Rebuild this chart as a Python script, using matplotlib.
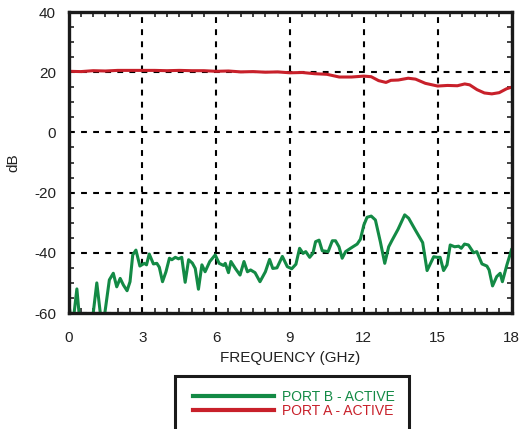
import matplotlib
matplotlib.use("Agg")
import matplotlib.pyplot as plt
from matplotlib.lines import Line2D
from matplotlib.patches import Rectangle
from matplotlib.ticker import MultipleLocator

plt.rcParams["font.family"] = ["Liberation Sans", "DejaVu Sans"]
plt.rcParams["axes.unicode_minus"] = False

# PORT B - ACTIVE (green)
green_f = [0.0, 0.1, 0.2, 0.34, 0.45, 0.6, 0.8, 0.99, 1.15, 1.32, 1.46, 1.66, 1.82, 1.96,
           2.1, 2.23, 2.38, 2.5, 2.61, 2.74, 2.9, 3.08, 3.17, 3.28, 3.45, 3.59, 3.69, 3.82,
           3.96, 4.1, 4.2, 4.34, 4.47, 4.6, 4.74, 4.88, 5.03, 5.15, 5.28, 5.42, 5.55, 5.74,
           5.96, 6.12, 6.3, 6.37, 6.5, 6.6, 6.78, 6.97, 7.13, 7.27, 7.4, 7.58, 7.78, 8.0,
           8.17, 8.3, 8.47, 8.69, 8.89, 9.07, 9.24, 9.39, 9.53, 9.64, 9.8, 9.93, 10.04,
           10.18, 10.31, 10.55, 10.72, 10.85, 10.99, 11.12, 11.26, 11.46, 11.73, 11.86,
           12.0, 12.13, 12.3, 12.47, 12.67, 12.85, 13.01, 13.15, 13.39, 13.66, 13.82,
           14.09, 14.39, 14.46, 14.57, 14.84, 14.98, 15.1, 15.24, 15.38, 15.51, 15.69,
           15.85, 15.96, 16.09, 16.25, 16.46, 16.59, 16.8, 17.0, 17.09, 17.23, 17.4,
           17.54, 17.63, 17.81, 18.0]
green_db = [-56, -62, -62, -52, -62, -63, -63, -61, -50, -62, -61, -49, -46.8, -51.3,
            -48.5, -50.7, -52.6, -49.6, -40.7, -39.1, -44.4, -43.5, -44, -40.4, -43.7, -43.5, -44.8, -49.6,
            -46.3, -41.8, -42.3, -41.5, -42, -41.5, -49.8, -42.3, -43.4, -45.2, -52.1, -44, -46.3, -42.9,
            -40.7, -43.5, -44.2, -43.5, -46.6, -42.9, -45.2, -47.4, -42.9, -46.3, -45.7, -46.6, -49.6, -46.3,
            -42.2, -45.2, -45, -41.2, -44.6, -45.3, -43.8, -38.5, -40.2, -39.6, -41.5, -40.2, -36.3,
            -35.8, -39.3, -39.6, -36, -36, -38, -41.8, -39.6, -38.5, -37.1, -35.5,
            -30.8, -28.2, -27.8, -29.1, -36.3, -43.5, -38, -35.8, -32.2, -27.4, -28.5,
            -32.4, -36.6, -40.2, -45.9, -41.3, -41.5, -41.5, -45.9, -44, -37.4, -38,
            -37.8, -38.5, -37.1, -37.4, -40, -39.6, -43.7, -44.4, -45.7, -51, -47.9,
            -46.8, -49.6, -44.1, -39]

# PORT A - ACTIVE (red)
red_f = [0, 0.5, 1, 1.5, 2, 2.5, 3, 3.5, 4, 4.5, 5, 5.5, 6, 6.5, 7, 7.5, 8, 8.5, 9, 9.5,
         10, 10.5, 11, 11.5, 12, 12.3, 12.6, 12.9, 13.1, 13.4, 13.8, 14.1, 14.5, 15.0,
         15.4, 15.8, 16.1, 16.3, 16.6, 16.9, 17.2, 17.5, 17.8, 18]
red_db = [20.3, 20.2, 20.5, 20.4, 20.6, 20.6, 20.6, 20.6, 20.5, 20.6, 20.5, 20.5, 20.3,
          20.4, 20.1, 20.2, 20.0, 20.1, 19.8, 19.9, 19.5, 19.3, 18.4, 18.4, 18.7, 18.5,
          17.2, 16.6, 17.3, 17.4, 18.0, 17.7, 16.3, 15.4, 15.6, 15.5, 16.1, 15.8, 14.2,
          13.1, 12.8, 13.2, 14.5, 15.0]

legend_labels = ["PORT B - ACTIVE", "PORT A - ACTIVE"]
GREEN = "#138a45"
RED = "#c8202a"

W, H = 523, 429
fig = plt.figure(figsize=(W / 100, H / 100), dpi=100)
ax = fig.add_axes([68.5 / W, 1 - 313 / H, (511.5 - 68.5) / W, (313 - 12) / H])

ax.plot(green_f, green_db, color=GREEN, lw=2.2, solid_joinstyle="round")
ax.plot(red_f, red_db, color=RED, lw=2.2, solid_joinstyle="round")

ax.set_xlim(0, 18)
ax.set_ylim(-60, 40)
ax.set_xticks(range(0, 19, 3))
ax.set_yticks(range(-60, 41, 20))
ax.xaxis.set_minor_locator(MultipleLocator(0.5))
ax.yaxis.set_minor_locator(MultipleLocator(5))
ax.tick_params(which="major", length=0, labelsize=11, colors="#222222")
ax.tick_params(axis="x", which="major", pad=13)
ax.tick_params(axis="y", which="major", pad=9)
ax.tick_params(which="minor", direction="in", length=3.5, width=1.2,
               top=True, right=True, color="#222222")
ax.grid(True, which="major", color="black", ls=(0, (2.8, 3)), lw=1.5)

for s in ax.spines.values():
    s.set_linewidth(2.4)
    s.set_color("#1a1a1a")

ax.set_xlabel("FREQUENCY (GHz)", fontsize=11, labelpad=4, color="#222222")
ax.set_ylabel("dB", fontsize=11, labelpad=10, color="#222222")

# legend box below the plot, running off the bottom edge
fig.patches.append(Rectangle((175 / W, -0.05), (409 - 175) / W, 0.05 + 1 - 376 / H,
                             transform=fig.transFigure, fill=False,
                             edgecolor="#1a1a1a", lw=2.2))
handles = [Line2D([], [], color=GREEN, lw=3), Line2D([], [], color=RED, lw=3)]
leg = fig.legend(handles, legend_labels, loc="center left",
                 bbox_to_anchor=(186 / W, 1 - 404 / H), frameon=False,
                 fontsize=10, handlelength=5.8, handletextpad=0.6,
                 labelspacing=0.0, borderpad=0)
for t, c in zip(leg.get_texts(), [GREEN, RED]):
    t.set_color(c)

fig.savefig("out.png", dpi=100)
